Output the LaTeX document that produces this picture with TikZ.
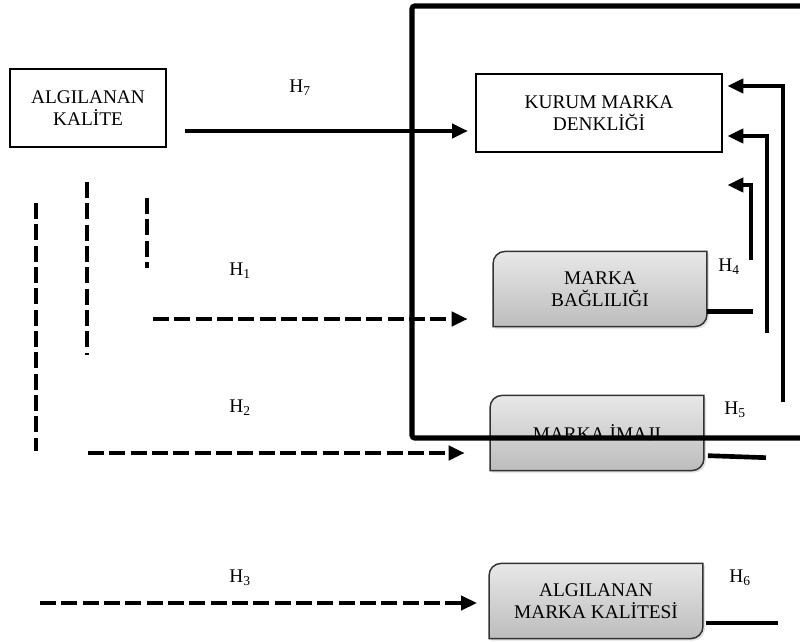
\documentclass[tikz,border=0pt]{standalone}
\usepackage{fontspec}
\setmainfont{Liberation Serif}
\usetikzlibrary{arrows.meta}
\usetikzlibrary{shadows}
\pgfdeclarelayer{back}
\pgfsetlayers{back,main}

\begin{document}
\begin{tikzpicture}[x=0.75pt, y=-0.75pt,
        every node/.style={font=\fontsize{14.5}{16.5}\selectfont, align=center},
        plainbox/.style={draw, line width=1.5pt, inner sep=0pt, minimum height=58pt},
        greybox/.style={inner sep=0pt, minimum width=160pt, minimum height=56pt},
        solidarrow/.style={line width=3pt, -{Triangle[length=12pt,width=10.5pt]}},
        dasharrow/.style={line width=3.5pt, dash pattern=on 12pt off 4pt, -{Triangle[length=12pt,width=10.5pt]}},
        dashline/.style={line width=3.5pt, dash pattern=on 12pt off 4pt},
        stub/.style={line width=3.5pt},
        frameline/.style={line width=3.8pt, rounded corners=2pt}]
            \useasboundingbox (0, 0) rectangle (800, 642);

            \node[plainbox, minimum width=117pt] (alk) at (88, 108) {ALGILANAN\\KAL\.ITE};
            \node[plainbox, minimum width=185pt] (kmd) at (599, 113) {KURUM MARKA\\DENKL\.I\u{G}\.I};
            \node[greybox] (bag) at (600, 289) {MARKA\\BA\u{G}LILI\u{G}I};
            \node[greybox] (ima) at (597, 433) {MARKA \.IMAJI};
            \node[greybox] (amk) at (596, 601) {ALGILANAN\\MARKA KAL\.ITES\.I};

            % grey boxes, two corners rounded
            \begin{pgfonlayer}{back}
                \foreach \n in {bag, ima, amk} {
                    \shadedraw[top color=gray!18, bottom color=gray!52, draw=black!80, line width=1.1pt,
                        drop shadow={opacity=0.25, shadow xshift=1.5pt, shadow yshift=-1.5pt}]
                        (\n.north east) -- ([yshift=9pt]\n.south east)
                        arc[start angle=0, end angle=-90, radius=9pt] -- (\n.south west)
                        -- ([yshift=-9pt]\n.north west)
                        arc[start angle=180, end angle=90, radius=9pt] -- cycle;
                }
            \end{pgfonlayer}

            \node (h7) at (300, 88) {H\textsubscript{7}};
            \node (h1) at (240, 271) {H\textsubscript{1}};
            \node (h2) at (240, 408) {H\textsubscript{2}};
            \node (h3) at (240, 578) {H\textsubscript{3}};
            \node (h4) at (729, 267) {H\textsubscript{4}};
            \node (h5) at (735, 410) {H\textsubscript{5}};
            \node (h6) at (740, 578) {H\textsubscript{6}};

            \coordinate (h7s) at (185, 131);
            \draw[solidarrow, shorten >=5pt] (h7s) -- (h7s -| kmd.west);

            % dashed paths on the left
            \draw[dashline] (36, 203) -- (36, 451);
            \draw[dashline] (87, 182) -- (87, 355);
            \draw[dashline] (147, 198) -- (147, 268);
            \coordinate (h1s) at (153, 319);
            \coordinate (h2s) at (88, 453);
            \coordinate (h3s) at (40, 603);
            \draw[dasharrow, shorten >=19pt] (h1s) -- (h1s -| bag.west);
            \draw[dasharrow, shorten >=19pt] (h2s) -- (h2s -| ima.west);
            \draw[dasharrow, shorten >=9pt] (h3s) -- (h3s -| amk.west);

            % lines back to the top box
            \coordinate (r1) at (783, 402);
            \coordinate (r1t) at (783, 86);
            \coordinate (r2) at (767, 333);
            \coordinate (r2t) at (767, 136);
            \coordinate (r3) at (751, 260);
            \coordinate (r3t) at (751, 185);
            \draw[solidarrow, shorten >=3pt] (r1) -- (r1t) -- (r1t -| kmd.east);
            \draw[solidarrow, shorten >=3pt] (r2) -- (r2t) -- (r2t -| kmd.east);
            \draw[solidarrow, shorten >=3pt] (r3) -- (r3t) -- (r3t -| kmd.east);

            \draw[stub] ([yshift=-17pt]bag.east) -- ++(46, 0);
            \draw[stub] ([xshift=3pt, yshift=-17pt]ima.east) -- ++(58, 2);
            \draw[stub] ([xshift=2pt, yshift=-16.5pt]amk.east) -- ++(72, 0);

            \draw[frameline] (806, 6) -- (412, 6) -- (412, 438) -- (806, 438);
        \end{tikzpicture}
\end{document}
